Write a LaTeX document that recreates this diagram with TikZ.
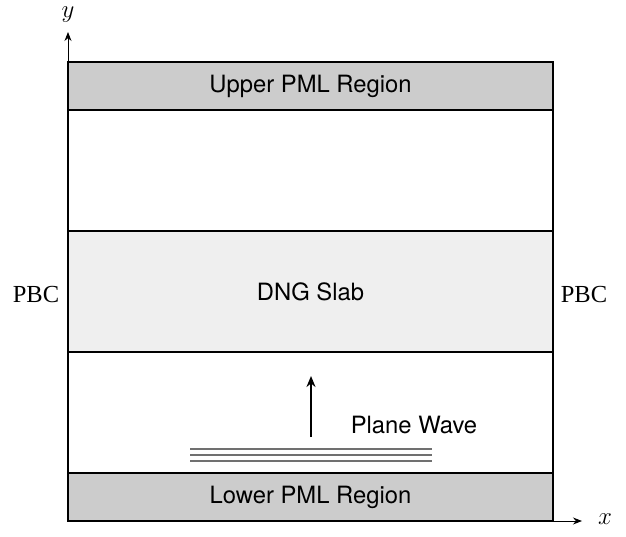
\documentclass[tikz,border=0pt]{standalone}
\usepackage{fontspec}
\setsansfont{TeX Gyre Heros}
\setmainfont{Liberation Serif}
\usetikzlibrary{arrows.meta}
\definecolor{pml}{HTML}{CCCCCC}
\definecolor{slab}{HTML}{EFEFEF}
\definecolor{wavegray}{HTML}{707070}
\tikzset{
  region/.style={draw=black, line width=1.4pt, inner sep=0pt, minimum width=485pt, minimum height=#1, font=\sffamily\fontsize{23.8}{28}\selectfont},
  lbl/.style={font=\sffamily\fontsize{23.8}{28}\selectfont, inner sep=0pt},
  pbc/.style={font=\fontsize{24.5}{28}\selectfont, inner sep=0pt},
  axlbl/.style={inner sep=0pt, font=\fontsize{23}{27}\selectfont},
  axis/.style={line width=0.9pt, -{Stealth[length=9pt,width=7pt]}},
  wave/.style={draw=wavegray, line width=1.3pt},
  prop/.style={line width=2.6pt, -{Stealth[length=11pt,width=9pt]}}
}
\begin{document}
\begin{tikzpicture}[x=1pt,y=-1pt]
\useasboundingbox (0,0) rectangle (626,536);
% regions
\node[region=121pt] (top) at (310.5,170.5) {};
\node[region=121pt, fill=slab] (dng) at (310.5,291.5) {DNG Slab};
\node[region=121pt] (bot) at (310.5,412.5) {};
\node[region=48pt, fill=pml] (upml) at (310.5,86) {Upper PML Region};
\node[region=48pt, fill=pml] (lpml) at (310.5,497) {Lower PML Region};
% axes
\coordinate (o) at (68,521);
\coordinate (ytip) at (68,32);
\coordinate (xtip) at (582,521);
\draw[axis] (o) -- (ytip);
\draw[axis] (o) -- (xtip);
\node[axlbl] (ylbl) at (68,15) {$y$};
\node[axlbl] (xlbl) at (605,519) {$x$};
% PBC
\node[pbc] (pbcl) at (36,295) {PBC};
\node[pbc] (pbcr) at (584,295) {PBC};
% plane wave
\coordinate (a0) at (311,437);
\coordinate (a1) at (311,376);
\draw[prop] (a0) -- (a1);
\node[lbl] (pw) at (414,425) {Plane Wave};
\coordinate (w1l) at (190,449); \coordinate (w1r) at (432,449);
\coordinate (w2l) at (190,455); \coordinate (w2r) at (432,455);
\coordinate (w3l) at (190,461); \coordinate (w3r) at (432,461);
\draw[wave] (w1l) -- (w1r);
\draw[wave] (w2l) -- (w2r);
\draw[wave] (w3l) -- (w3r);
\end{tikzpicture}
\end{document}
